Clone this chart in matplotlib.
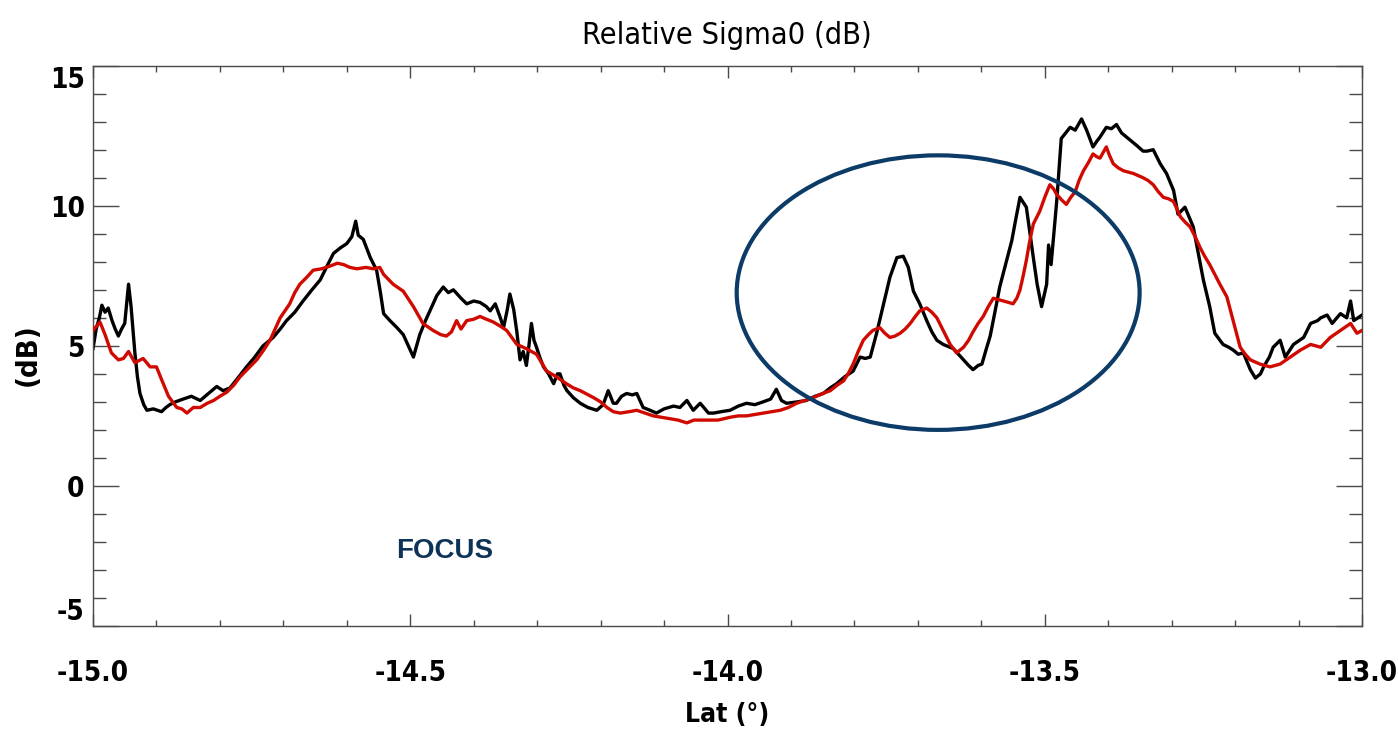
import numpy as np
import matplotlib
matplotlib.use("Agg")
import matplotlib.pyplot as plt
from matplotlib.patches import Ellipse
from matplotlib.ticker import MultipleLocator

# black trace (lat in degrees, relative sigma0 in dB)
black_lat = [
    -15.000, -14.995, -14.990, -14.986, -14.981, -14.976, -14.970, -14.965, -14.960, -14.955,
    -14.950, -14.947, -14.944, -14.940, -14.934, -14.930, -14.926, -14.920, -14.915, -14.905,
    -14.892, -14.885, -14.879, -14.870, -14.858, -14.845, -14.831, -14.818, -14.805, -14.795,
    -14.784, -14.770, -14.758, -14.745, -14.732, -14.716, -14.705, -14.695, -14.682, -14.669,
    -14.655, -14.642, -14.630, -14.621, -14.610, -14.600, -14.592, -14.586, -14.582, -14.574,
    -14.563, -14.553, -14.547, -14.542, -14.532, -14.521, -14.511, -14.503, -14.495, -14.485,
    -14.476, -14.469, -14.458, -14.448, -14.440, -14.432, -14.420, -14.411, -14.400, -14.390,
    -14.380, -14.374, -14.366, -14.358, -14.353, -14.347, -14.343, -14.337, -14.332, -14.327,
    -14.322, -14.317, -14.313, -14.309, -14.305, -14.301, -14.296, -14.290, -14.282, -14.274,
    -14.268, -14.264, -14.258, -14.253, -14.243, -14.232, -14.220, -14.206, -14.196, -14.188,
    -14.180, -14.175, -14.167, -14.159, -14.150, -14.143, -14.133, -14.122, -14.112, -14.100,
    -14.085, -14.075, -14.064, -14.054, -14.043, -14.030, -14.022, -14.010, -13.996, -13.983,
    -13.970, -13.957, -13.944, -13.932, -13.923, -13.915, -13.907, -13.890, -13.876, -13.862,
    -13.849, -13.838, -13.828, -13.815, -13.802, -13.791, -13.783, -13.775, -13.765, -13.754,
    -13.744, -13.733, -13.723, -13.715, -13.707, -13.697, -13.686, -13.678, -13.670, -13.660,
    -13.644, -13.636, -13.628, -13.620, -13.613, -13.605, -13.599, -13.592, -13.586, -13.576,
    -13.571, -13.563, -13.552, -13.545, -13.539, -13.529, -13.518, -13.512, -13.505, -13.497,
    -13.494, -13.490, -13.481, -13.474, -13.467, -13.460, -13.452, -13.442, -13.434, -13.424,
    -13.418, -13.413, -13.403, -13.395, -13.387, -13.379, -13.371, -13.355, -13.345, -13.339,
    -13.329, -13.318, -13.308, -13.297, -13.290, -13.279, -13.266, -13.258, -13.250, -13.240,
    -13.232, -13.219, -13.210, -13.203, -13.195, -13.187, -13.176, -13.168, -13.160, -13.155,
    -13.146, -13.140, -13.129, -13.121, -13.108, -13.092, -13.081, -13.070, -13.065, -13.055,
    -13.047, -13.034, -13.024, -13.018, -13.013, -13.000,
]
black_db = [
    4.90, 5.60, 6.00, 6.45, 6.20, 6.35, 5.90, 5.60, 5.35, 5.60,
    5.80, 6.50, 7.20, 6.40, 4.75, 3.90, 3.30, 2.90, 2.70, 2.75,
    2.65, 2.80, 2.90, 3.00, 3.10, 3.20, 3.05, 3.30, 3.55, 3.40,
    3.50, 3.90, 4.25, 4.60, 5.00, 5.30, 5.60, 5.90, 6.20, 6.60,
    7.00, 7.35, 7.90, 8.30, 8.50, 8.65, 8.90, 9.45, 8.95, 8.80,
    8.15, 7.70, 6.90, 6.15, 5.90, 5.65, 5.40, 5.00, 4.60, 5.40,
    5.90, 6.25, 6.80, 7.10, 6.90, 7.00, 6.70, 6.50, 6.60, 6.55,
    6.40, 6.25, 6.50, 6.00, 5.65, 6.30, 6.85, 6.30, 5.50, 4.50,
    4.80, 4.30, 5.00, 5.80, 5.20, 4.95, 4.60, 4.25, 4.00, 3.65,
    4.00, 4.00, 3.60, 3.40, 3.15, 2.95, 2.80, 2.70, 2.90, 3.40,
    2.95, 2.95, 3.20, 3.30, 3.25, 3.30, 2.80, 2.70, 2.60, 2.75,
    2.85, 2.80, 3.05, 2.70, 2.95, 2.60, 2.60, 2.65, 2.70, 2.85,
    2.95, 2.90, 3.00, 3.10, 3.45, 3.05, 2.95, 3.00, 3.05, 3.20,
    3.30, 3.50, 3.65, 3.90, 4.10, 4.60, 4.55, 4.60, 5.45, 6.50,
    7.45, 8.15, 8.20, 7.80, 6.95, 6.50, 5.90, 5.50, 5.20, 5.05,
    4.90, 4.70, 4.50, 4.30, 4.15, 4.30, 4.35, 4.90, 5.35, 6.50,
    7.10, 7.80, 8.75, 9.60, 10.30, 9.95, 8.15, 7.20, 6.40, 7.20,
    8.60, 7.90, 10.20, 12.40, 12.60, 12.80, 12.70, 13.10, 12.70, 12.10,
    12.30, 12.45, 12.80, 12.75, 12.90, 12.60, 12.45, 12.15, 11.95, 11.95,
    12.00, 11.50, 11.15, 10.55, 9.70, 9.95, 9.25, 8.30, 7.35, 6.40,
    5.45, 5.05, 4.95, 4.85, 4.70, 4.75, 4.15, 3.85, 4.00, 4.25,
    4.60, 4.95, 5.20, 4.60, 5.05, 5.30, 5.80, 5.90, 6.00, 6.10,
    5.80, 6.15, 6.00, 6.60, 5.90, 6.10,
]

# red trace
red_lat = [
    -15.000, -14.989, -14.981, -14.971, -14.960, -14.952, -14.944, -14.934, -14.921, -14.910,
    -14.900, -14.892, -14.881, -14.868, -14.860, -14.852, -14.842, -14.831, -14.820, -14.810,
    -14.800, -14.789, -14.778, -14.768, -14.755, -14.742, -14.731, -14.721, -14.713, -14.705,
    -14.690, -14.682, -14.674, -14.663, -14.653, -14.640, -14.626, -14.615, -14.605, -14.595,
    -14.584, -14.570, -14.558, -14.548, -14.542, -14.527, -14.511, -14.495, -14.480, -14.464,
    -14.452, -14.443, -14.435, -14.427, -14.420, -14.411, -14.400, -14.390, -14.380, -14.369,
    -14.358, -14.348, -14.340, -14.332, -14.317, -14.301, -14.293, -14.285, -14.270, -14.254,
    -14.243, -14.232, -14.211, -14.200, -14.190, -14.180, -14.169, -14.155, -14.143, -14.130,
    -14.117, -14.104, -14.091, -14.078, -14.064, -14.053, -14.043, -14.030, -14.015, -13.996,
    -13.983, -13.970, -13.957, -13.944, -13.930, -13.917, -13.904, -13.891, -13.878, -13.865,
    -13.850, -13.838, -13.827, -13.817, -13.810, -13.802, -13.794, -13.786, -13.778, -13.771,
    -13.760, -13.752, -13.744, -13.736, -13.728, -13.720, -13.712, -13.704, -13.697, -13.686,
    -13.678, -13.670, -13.660, -13.649, -13.639, -13.628, -13.620, -13.613, -13.605, -13.597,
    -13.589, -13.581, -13.573, -13.565, -13.557, -13.550, -13.544, -13.539, -13.534, -13.529,
    -13.524, -13.518, -13.508, -13.500, -13.492, -13.486, -13.481, -13.473, -13.466, -13.459,
    -13.452, -13.446, -13.439, -13.431, -13.424, -13.418, -13.413, -13.403, -13.398, -13.392,
    -13.384, -13.376, -13.360, -13.345, -13.337, -13.329, -13.321, -13.313, -13.305, -13.297,
    -13.290, -13.286, -13.278, -13.271, -13.263, -13.255, -13.248, -13.240, -13.232, -13.224,
    -13.213, -13.203, -13.197, -13.192, -13.184, -13.176, -13.161, -13.145, -13.129, -13.113,
    -13.097, -13.081, -13.065, -13.050, -13.034, -13.018, -13.008, -13.000,
]
red_db = [
    5.55, 5.85, 5.40, 4.75, 4.50, 4.55, 4.80, 4.40, 4.55, 4.25,
    4.25, 3.80, 3.20, 2.80, 2.75, 2.60, 2.80, 2.80, 2.95, 3.05,
    3.20, 3.35, 3.60, 3.90, 4.20, 4.50, 4.85, 5.20, 5.60, 6.00,
    6.50, 6.90, 7.20, 7.45, 7.70, 7.75, 7.85, 7.95, 7.90, 7.80,
    7.75, 7.80, 7.75, 7.80, 7.55, 7.20, 6.95, 6.40, 5.80, 5.55,
    5.40, 5.35, 5.50, 5.90, 5.60, 5.90, 5.95, 6.05, 5.95, 5.85,
    5.70, 5.55, 5.30, 5.05, 4.90, 4.70, 4.40, 4.10, 3.90, 3.65,
    3.50, 3.40, 3.15, 3.00, 2.80, 2.65, 2.60, 2.65, 2.70, 2.60,
    2.50, 2.45, 2.40, 2.35, 2.25, 2.35, 2.35, 2.35, 2.35, 2.45,
    2.50, 2.50, 2.55, 2.60, 2.65, 2.70, 2.80, 2.95, 3.05, 3.15,
    3.30, 3.40, 3.60, 3.75, 4.00, 4.35, 4.80, 5.20, 5.40, 5.55,
    5.65, 5.45, 5.30, 5.35, 5.45, 5.60, 5.80, 6.05, 6.25, 6.35,
    6.20, 6.00, 5.55, 5.05, 4.75, 4.95, 5.20, 5.50, 5.80, 6.05,
    6.40, 6.70, 6.65, 6.60, 6.55, 6.50, 6.70, 7.00, 7.50, 8.05,
    8.70, 9.35, 9.80, 10.30, 10.75, 10.60, 10.40, 10.20, 10.05, 10.30,
    10.50, 10.90, 11.25, 11.55, 11.85, 11.75, 11.70, 12.10, 11.80, 11.50,
    11.35, 11.25, 11.15, 11.00, 10.90, 10.75, 10.50, 10.30, 10.25, 10.15,
    9.80, 9.60, 9.40, 9.25, 8.90, 8.50, 8.20, 7.90, 7.55, 7.20,
    6.75, 5.90, 5.40, 4.95, 4.70, 4.50, 4.35, 4.25, 4.35, 4.60,
    4.85, 5.05, 4.95, 5.30, 5.55, 5.80, 5.45, 5.55,
]

x_ticks = [-15.0, -14.5, -14.0, -13.5, -13.0]
x_tick_labels = ["-15.0", "-14.5", "-14.0", "-13.5", "-13.0"]
y_ticks = [-5, 0, 5, 10, 15]
y_tick_labels = ["-5", "0", "5", "10", "15"]

plt.rcParams["axes.unicode_minus"] = False
NARROW = ["Liberation Sans Narrow", "DejaVu Sans"]

fig = plt.figure(figsize=(13.98, 7.36), dpi=100)
ax = fig.add_axes([93 / 1398, 1 - 626 / 736, (1362 - 93) / 1398, (626 - 65.7) / 736])

ax.plot(black_lat, black_db, color="black", lw=2.4, zorder=2)
ax.plot(red_lat, red_db, color="#d00a00", lw=2.4, zorder=3)

# the highlighted region
ax.add_patch(Ellipse((-13.668, 6.9), 0.635, 9.8, fill=False,
                     edgecolor="#0b3b66", lw=3.0, zorder=4))
ax.text(-14.445, -2.33, "FOCUS", color="#0d3358", fontsize=20, fontweight="bold",
        family=["Liberation Sans", "DejaVu Sans"], ha="center", va="center")

ax.set_xlim(-15, -13)
ax.set_ylim(-5, 15)
ax.set_xticks(x_ticks)
ax.set_xticklabels(x_tick_labels)
ax.set_yticks(y_ticks)
ax.set_yticklabels(y_tick_labels)
ax.xaxis.set_minor_locator(MultipleLocator(0.1))
ax.yaxis.set_minor_locator(MultipleLocator(1))

for s in ax.spines.values():
    s.set_color("#4a4a4a")
    s.set_linewidth(1.0)

ax.tick_params(axis="both", which="both", direction="in", top=True, right=True,
               color="#4a4a4a", width=1.0)
ax.tick_params(axis="x", which="major", length=8.6, pad=24)
ax.tick_params(axis="x", which="minor", length=4.3)
ax.tick_params(axis="y", which="major", length=18.7, pad=6)
ax.tick_params(axis="y", which="minor", length=9.4)

for lab in ax.get_xticklabels() + ax.get_yticklabels():
    lab.set_family(NARROW)
    lab.set_fontweight("bold")
    lab.set_fontsize(20)
    lab.set_fontstretch("condensed")
ylabs = ax.get_yticklabels()
ylabs[-1].set_va("top")
ylabs[0].set_va("bottom")

fig.text(727 / 1398, 1 - 35 / 736, "Relative Sigma0 (dB)", ha="center", va="center",
         family=NARROW, fontsize=22, fontstretch="condensed")
fig.text(727 / 1398, 1 - 715 / 736, "Lat (°)", ha="center", va="center",
         family=NARROW, fontsize=19, fontweight="bold", fontstretch="condensed")
fig.text(28 / 1398, 1 - 355 / 736, "(dB)", ha="center", va="center", rotation=90,
         family=NARROW, fontsize=21, fontweight="bold", fontstretch="condensed")

fig.savefig("out.png", dpi=100)
